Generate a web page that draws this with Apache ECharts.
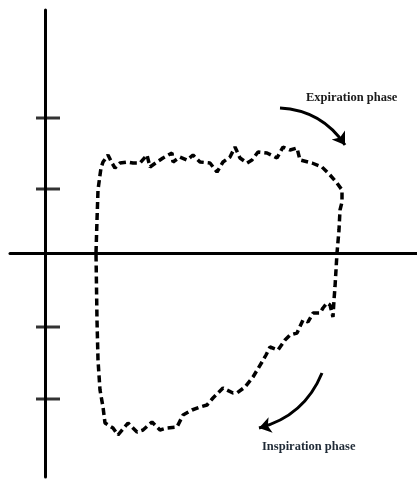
<!DOCTYPE html>
<html>
<head>
<meta charset="utf-8">
<script src="https://cdn.jsdelivr.net/npm/echarts@6/dist/echarts.min.js"></script>
<style>html,body{margin:0;padding:0;background:#fff;}#c{width:417px;height:479px;}</style>
</head>
<body>
<div id="c"></div>
<script>
// Flow-volume loop (arbitrary units), traced clockwise from the left zero crossing
var volume = [51,52,53,55,56,58,63,67,70,75,82,88,95,102,105,112,118,127,128,135,142,148,155,165,172,178,185,190,195,202,207,213,222,232,238,245,252,255,267,277,285,292,297,297,295,
  294,292,291,290,289,288,285,282,278,275,268,263,258,252,245,240,233,225,221,217,208,200,192,188,178,168,162,155,147,138,132,122,115,107,98,92,83,73,68,60,58,55,53,52,51];
var flow = [0,33,63,78,85,91,98,90,85,90,91,90,90,98,86,91,95,100,91,96,93,98,91,90,81,91,96,106,95,90,93,101,100,95,106,103,105,93,90,86,78,70,63,51,43,
  23,0,-17,-34,-47,-64,-52,-50,-55,-60,-60,-69,-67,-80,-82,-87,-97,-94,-102,-109,-124,-134,-140,-140,-135,-145,-152,-154,-157,-162,-174,-175,-177,-169,-177,-179,-170,-182,-175,-170,-154,-137,-107,-67,0];
var yTickValues = [135, 64, -74, -146];
var expArrow = [[235, 145], [300, 108]];
var inspArrow = [[277, -120], [214, -175]];
var labels = ['Expiration phase', 'Inspiration phase'];

var loop = volume.map(function (v, i) { return [v, flow[i]]; });
var ticks = yTickValues.map(function (t) { return [0, t]; });

var chart = echarts.init(document.getElementById('c'));
chart.setOption({
  animation: false,
  grid: { left: 10, right: 0, top: 10, bottom: 2 },
  xAxis: {
    type: 'value', min: -35, max: 372,
    axisLine: { onZero: true, lineStyle: { color: '#000', width: 3 } },
    axisTick: { show: false }, axisLabel: { show: false }, splitLine: { show: false }
  },
  yAxis: {
    type: 'value', min: -224, max: 243,
    axisLine: { onZero: true, lineStyle: { color: '#000', width: 3 } },
    axisTick: { show: false }, axisLabel: { show: false }, splitLine: { show: false }
  },
  series: [
    {
      type: 'scatter', data: ticks, symbol: 'rect', symbolSize: [24, 3], symbolOffset: [3, 0],
      itemStyle: { color: '#000' }, silent: true, z: 3
    },
    {
      type: 'line', data: loop, showSymbol: false, smooth: false,
      lineStyle: { color: '#000', width: 3.5, type: [7, 4] }, z: 4
    },
    {
      type: 'lines', coordinateSystem: 'cartesian2d', symbol: ['none', 'arrow'], symbolSize: 12,
      lineStyle: { color: '#000', width: 3, curveness: 0.25, opacity: 1 },
      data: [{ coords: expArrow }, { coords: inspArrow }], z: 5
    }
  ],
  graphic: [
    { type: 'text', left: 306, top: 91, style: { text: labels[0], font: 'bold 12.5px "Liberation Serif"', fill: '#1a1a1a' } },
    { type: 'text', left: 262, top: 440, style: { text: labels[1], font: 'bold 12.5px "Liberation Serif"', fill: '#1f2a36' } }
  ]
});
</script>
</body>
</html>
